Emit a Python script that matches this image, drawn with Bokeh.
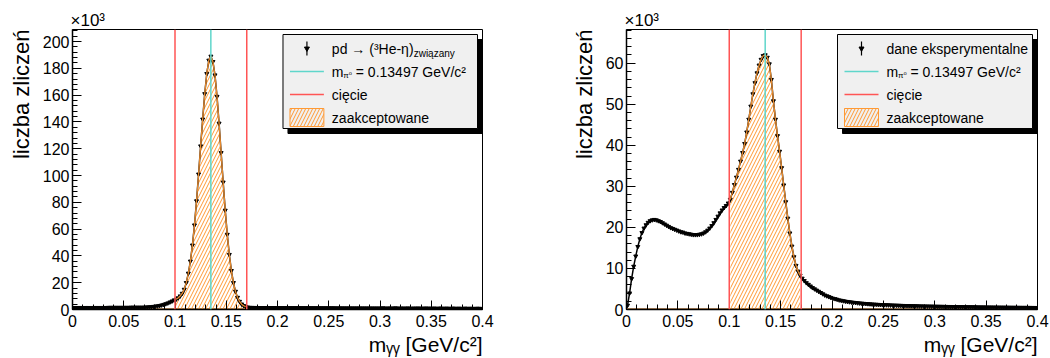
import numpy as np
from bokeh.plotting import figure
from bokeh.layouts import row
from bokeh.models import Range1d, SingleIntervalTicker, CustomJSTickFormatter, Span, Label, Title
from bokeh.embed import file_html
from bokeh.resources import INLINE

# ---------------- data (counts in units of 10^3, bins of 0.002 GeV/c^2) ----------------
BIN_START = 0.001
BIN_WIDTH = 0.002

left_counts = [
    1.3, 1.4, 1.3, 1.4, 1.4, 1.3, 1.4, 1.4, 1.3, 1.4,
    1.4, 1.4, 1.4, 1.4, 1.4, 1.4, 1.4, 1.5, 1.5, 1.5,
    1.5, 1.5, 1.5, 1.5, 1.5, 1.5, 1.5, 1.5, 1.6, 1.6,
    1.6, 1.6, 1.6, 1.6, 1.6,
    1.7, 1.8, 1.9, 2.0, 2.2, 2.4, 2.6, 2.9, 3.3, 3.7, 4.2, 4.8, 5.5, 6.2, 7.0,
    7.6, 8.6, 10.0, 12.0, 15.0, 20, 27, 36, 48, 63, 81, 101, 122, 142, 161, 176, 186, 189,
    185, 175, 159, 139, 117, 95, 74, 56, 41, 29, 20, 13.5, 9, 6, 4, 2.8, 2.1, 1.7, 1.5,
    1.45, 1.42, 1.40, 1.38, 1.37, 1.35, 1.34, 1.33, 1.32, 1.31, 1.30, 1.29, 1.28,
    1.27, 1.26, 1.25, 1.25, 1.24, 1.23, 1.22, 1.22, 1.21, 1.20, 1.20, 1.19, 1.18,
    1.18, 1.17, 1.16, 1.16, 1.15, 1.15, 1.14, 1.13, 1.13, 1.12, 1.12, 1.11,
    1.11, 1.10, 1.10, 1.09, 1.09, 1.08, 1.08, 1.07, 1.07, 1.06, 1.06, 1.05, 1.05,
    1.04, 1.04, 1.03, 1.03, 1.02, 1.02, 1.01, 1.01, 1.00, 1.00, 0.99, 0.99,
    0.98, 1.1, 0.97, 0.9, 1.05, 0.96, 0.95, 1.1, 0.94, 0.9, 1.0, 0.93, 0.92,
    1.05, 0.91, 0.85, 0.95, 0.9, 1.0, 0.88, 0.9, 0.87, 1.0, 0.86, 0.9,
    0.85, 0.95, 0.84, 0.8, 1.0, 0.83, 0.82, 0.9, 0.81, 0.75, 0.95, 0.8, 0.79,
    0.85, 0.78, 0.7, 0.9, 0.77, 0.76, 0.8, 0.75, 0.7, 0.85, 0.74, 0.7,
]

right_counts = [
    1.0, 4.0, 7.5, 10.5, 13.0, 15.3, 17.2, 18.7, 19.8, 20.6,
    21.2, 21.6, 21.8, 21.9, 21.8, 21.6, 21.4, 21.1, 20.8, 20.5,
    20.2, 19.9, 19.7, 19.5, 19.3, 19.1, 18.9, 18.8, 18.6, 18.5,
    18.4, 18.3, 18.2, 18.2, 18.2, 18.3, 18.4, 18.6, 18.9, 19.3,
    19.8, 20.4, 21.1, 21.9, 22.7, 23.5, 24.2, 24.8, 25.3, 25.9,
    26.8, 28.5, 30.4, 32.2, 34.1, 36.1, 38.2, 40.4, 43.2, 46.3, 49.5, 52.5, 55.2, 57.6,
    59.5, 60.9, 61.8, 62.0,
    61.4, 59.8, 56.0, 50.8, 46.3, 42.3, 38.5, 34.5, 30.3, 26.2,
    22.2, 18.6, 15.4, 12.8, 10.7, 9.3, 8.3, 7.6, 7.0, 6.5,
    6.1, 5.7, 5.3, 5.0, 4.7, 4.4, 4.1, 3.8, 3.5, 3.3, 3.1, 2.9,
    2.7, 2.6, 2.45, 2.3, 2.2, 2.1, 2.0, 1.92, 1.85, 1.78, 1.72, 1.66, 1.6,
    1.55, 1.5, 1.46, 1.42, 1.38, 1.34, 1.3, 1.27, 1.24, 1.21, 1.18, 1.15,
    1.13, 1.11, 1.09, 1.07, 1.05, 1.03, 1.01, 0.99, 0.97, 0.95, 0.94, 0.92, 0.91,
    0.89, 0.88, 0.87, 0.85, 0.84, 0.83, 0.82, 0.81, 0.80, 0.79, 0.78, 0.77,
    0.76, 0.75, 0.74, 0.73, 0.72, 0.71, 0.70, 0.70, 0.69, 0.68, 0.67, 0.66, 0.66,
    0.65, 0.64, 0.63, 0.63, 0.62, 0.61, 0.61, 0.60, 0.59, 0.59, 0.58, 0.58,
    0.57, 0.56, 0.56, 0.55, 0.55, 0.54, 0.54, 0.53, 0.53, 0.52, 0.52, 0.51, 0.51,
    0.50, 0.50, 0.49, 0.49, 0.48, 0.48, 0.48, 0.47, 0.47, 0.46, 0.46, 0.45,
]

M_PI0 = 0.13497
CUT_LO, CUT_HI = 0.10, 0.17
X_MAX = 0.4
LEFT_YMAX = 209.0
RIGHT_YMAX = 68.2
LEFT_YTICK = 20
RIGHT_YTICK = 10
X_TICK = 0.05

LEFT_LEGEND_1 = "pd \u2192 (\u00b3He-\u03b7)"
LEFT_LEGEND_1_SUB = "zwi\u0105zany"
RIGHT_LEGEND_1 = "dane eksperymentalne"
LEGEND_2_SUB = "\u03c0\u2070"
LEGEND_2 = "= 0.13497 GeV/c\u00b2"
LEGEND_3 = "ci\u0119cie"
LEGEND_4 = "zaakceptowane"
Y_TITLE = "liczba zlicze\u0144"
X_TITLE = "m\u1d67\u1d67 [GeV/c\u00b2]"
EXPONENT = "\u00d710\u00b3"

# ---------------- style ----------------
FONT = "'Liberation Sans', 'DejaVu Sans'"
W, H = 525, 358
FT, FH, FW = 29, 280, 411
RED = "#ff5555"
CYAN = "#5fd6cb"
ORANGE = "#ff9933"
BROWN = "#a0642a"
LEG_BG = "#f0f0f0"


def make(counts, ymax, yint, FL, first_label, first_sub):
    x = np.round(BIN_START + BIN_WIDTH * np.arange(len(counts)), 4)
    y = np.array(counts, dtype=float)

    p = figure(width=W, height=H, output_backend="svg", toolbar_location=None,
               x_range=Range1d(0, X_MAX), y_range=Range1d(0, ymax),
               min_border_left=FL, min_border_right=W - FL - FW,
               min_border_top=FT, min_border_bottom=H - FT - FH)
    p.grid.visible = False
    p.background_fill_color = "white"
    p.border_fill_color = "white"
    p.outline_line_color = "black"
    p.outline_line_width = 1

    p.xaxis.ticker = SingleIntervalTicker(interval=X_TICK, num_minor_ticks=5)
    p.xaxis.formatter = CustomJSTickFormatter(code="return String(Math.round(tick*100)/100);")
    p.yaxis.ticker = SingleIntervalTicker(interval=yint, num_minor_ticks=5)
    for ax in p.axis:
        ax.major_tick_in = 9
        ax.major_tick_out = 0
        ax.minor_tick_in = 5
        ax.minor_tick_out = 0
        ax.axis_line_width = 1.5
        ax.major_tick_line_width = 1
        ax.minor_tick_line_width = 1
        ax.major_label_text_font = FONT
        ax.major_label_text_font_size = "16px"
        ax.major_label_text_color = "black"
    p.xaxis.major_label_standoff = 5
    p.yaxis.major_label_standoff = 3

    # titles outside the frame
    p.add_layout(Title(text=X_TITLE, align="right", text_font=FONT, text_font_size="21px",
                       text_font_style="normal", text_color="black", standoff=2), "below")
    p.add_layout(Title(text=Y_TITLE, align="right", text_font=FONT, text_font_size="22px",
                       text_font_style="normal", text_color="black", standoff=12), "left")
    p.add_layout(Title(text=EXPONENT, align="left", text_font=FONT, text_font_size="17px",
                       text_font_style="normal", text_color="black", standoff=0, offset=-2), "above")

    X = lambda px: (px - FL) / FW * X_MAX
    Y = lambda py: (FT + FH - py) / FH * ymax

    # baseline
    p.line([0, X_MAX], [0, 0], line_color=BROWN, line_width=2.5)

    # accepted (hatched) region
    m = (x >= CUT_LO) & (x <= CUT_HI)
    p.varea(x=x[m], y1=np.zeros(m.sum()), y2=y[m], fill_alpha=0,
            hatch_pattern="/", hatch_color=ORANGE, hatch_scale=7, hatch_weight=1)

    # data
    p.line(x, y, line_color="black", line_width=1.5)
    p.scatter(x, y, marker="inverted_triangle", size=4, fill_color="black", line_color="black")
    p.line(x[m], y[m], line_color=ORANGE, line_width=1.3, line_alpha=0.9)

    # lines
    for loc in (CUT_LO, CUT_HI):
        p.add_layout(Span(location=loc, dimension="height", line_color=RED, line_width=1.5))
    p.add_layout(Span(location=M_PI0, dimension="height", line_color=CYAN, line_width=1.5))

    # legend
    R = FL + FW
    bl, br, bt, bb = R - 200, R - 5, 34, 128
    p.quad(left=[X(bl + 5)], right=[X(br + 5)], top=[Y(bt + 5)], bottom=[Y(bb + 5)],
           fill_color="black", line_color="black")
    p.quad(left=[X(bl)], right=[X(br)], top=[Y(bt)], bottom=[Y(bb)],
           fill_color=LEG_BG, line_color="black", line_width=1)
    rows = [48, 71, 94, 117]
    sx0, sx1, mx, tx = bl + 7, bl + 41, bl + 24, bl + 49

    def lab(text, px, py, size, align="left", baseline="middle", angle=0.0):
        p.add_layout(Label(x=X(px), y=Y(py), text=text, text_font=FONT,
                           text_font_size=f"{size}px", text_align=align,
                           text_baseline=baseline, angle=angle, text_color="black"))

    p.segment(x0=[X(mx)], y0=[Y(rows[0] - 7)], x1=[X(mx)], y1=[Y(rows[0] + 7)],
              line_color="black", line_width=1.2)
    p.scatter([X(mx)], [Y(rows[0])], marker="inverted_triangle", size=5,
              fill_color="black", line_color="black")
    lab(first_label, tx, rows[0], 14)
    if first_sub:
        lab(first_sub, tx + 82, rows[0] + 5, 10)

    p.line([X(sx0), X(sx1)], [Y(rows[1])] * 2, line_color=CYAN, line_width=1.5)
    lab("m", tx, rows[1], 14)
    lab(LEGEND_2_SUB, tx + 11.5, rows[1] + 4, 8)
    lab(LEGEND_2, tx + 24, rows[1], 14)

    p.line([X(sx0), X(sx1)], [Y(rows[2])] * 2, line_color=RED, line_width=1.5)
    lab(LEGEND_3, tx, rows[2], 14)

    p.quad(left=[X(sx0)], right=[X(sx1)], top=[Y(rows[3] - 9)], bottom=[Y(rows[3] + 9)],
           fill_alpha=0, line_color=ORANGE, line_width=1,
           hatch_pattern="/", hatch_color=ORANGE, hatch_scale=7, hatch_weight=1)
    lab(LEGEND_4, tx, rows[3], 14)
    return p


p_left = make(left_counts, LEFT_YMAX, LEFT_YTICK, 71, LEFT_LEGEND_1, LEFT_LEGEND_1_SUB)
p_right = make(right_counts, RIGHT_YMAX, RIGHT_YTICK, 101, RIGHT_LEGEND_1, None)

p = row(p_left, p_right)
open("out.html", "w").write(file_html(p, INLINE))
